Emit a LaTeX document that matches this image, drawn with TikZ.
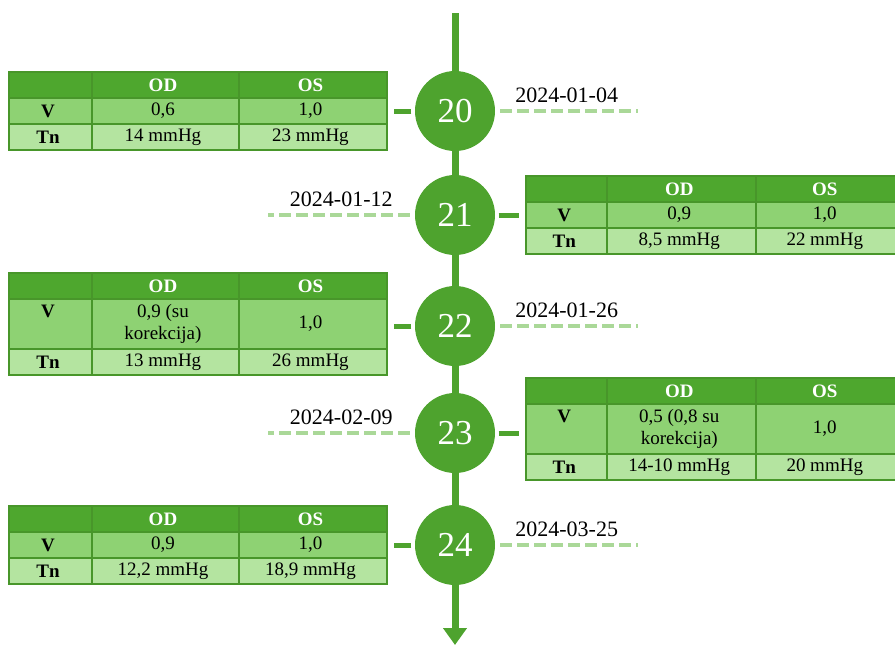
\documentclass[tikz,border=0pt]{standalone}
\usepackage{fontspec}
\setmainfont{Liberation Serif}
\newfontfamily\timesfont{Liberation Serif}
\usetikzlibrary{positioning, matrix, arrows.meta}

\definecolor{ringgreen}{RGB}{78,163,46}
\definecolor{headgreen}{RGB}{78,167,46}
\definecolor{vgreen}{RGB}{142,210,115}
\definecolor{tngreen}{RGB}{180,228,160}
\definecolor{rulegreen}{RGB}{72,150,42}
\definecolor{dashgreen}{RGB}{170,216,152}

\newcommand{\tabfont}{\timesfont\fontsize{19}{22}\selectfont}
\newcommand{\twoline}[2]{\begin{tabular}{@{}c@{}}#1\\#2\end{tabular}}

\tikzset{
  stop/.style={circle, fill=ringgreen, text=white, minimum size=80pt, inner sep=0pt,
    font=\timesfont\fontsize{35}{35}\selectfont},
  spine/.style={draw=ringgreen, line width=7pt},
  stub/.style={draw=ringgreen, line width=5pt, shorten <=3.5pt, shorten >=6.5pt},
  dateline/.style={draw=dashgreen, line width=4.5pt, dash pattern=on 12pt off 5pt, shorten <=5pt},
  datetxt/.style={text=black, font=\timesfont\fontsize{22}{24}\selectfont, inner sep=1pt, above=5pt},
  obs/.style n args={3}{matrix of nodes, nodes in empty cells, inner sep=0pt,
    column sep=-1.5pt, row sep=-1.5pt,
    nodes={draw=rulegreen, line width=1.5pt, anchor=center, align=center, inner sep=0pt,
      minimum height=26pt, font=\tabfont},
    column 1/.style={nodes={minimum width=#1, font=\tabfont\bfseries}},
    column 2/.style={nodes={minimum width=#2}},
    column 3/.style={nodes={minimum width=#3}},
    row 1/.style={nodes={fill=headgreen, text=white, font=\tabfont\bfseries}},
    row 2/.style={nodes={fill=vgreen}},
    row 3/.style={nodes={fill=tngreen}}},
  tall/.style={row 2/.append style={nodes={minimum height=50pt}}}
}

\begin{document}
\begin{tikzpicture}[x=1pt, y=-1pt]
   \useasboundingbox (0,0) rectangle (895,646);

   % visits
   \node[stop] (c20) at (455,111) {20};
   \node[stop, on grid, below=104pt of c20] (c21) {21};
   \node[stop, on grid, below=111pt of c21] (c22) {22};
   \node[stop, on grid, below=107pt of c22] (c23) {23};
   \node[stop, on grid, below=112pt of c23] (c24) {24};
   \coordinate (top) at (455,13);
   \coordinate (bot) at (455,645);

   \draw[spine] (top) -- (c20) -- (c21) -- (c22) -- (c23) -- (c24);
   \draw[spine, -{Triangle[width=23pt, length=17pt]}] (c24) -- (bot);

   % measurements
   \matrix[obs={83pt}{147pt}{148pt}, left=27pt of c20] (t20) {
     & OD & OS \\
     V & 0,6 & 1,0 \\
     Tn & 14 mmHg & 23 mmHg \\
   };
   \matrix[obs={81pt}{149pt}{142pt}, right=30pt of c21] (t21) {
     & OD & OS \\
     V & 0,9 & 1,0 \\
     Tn & 8,5 mmHg & 22 mmHg \\
   };
   \matrix[obs={83pt}{147pt}{148pt}, tall, left=27pt of c22, yshift=2pt] (t22) {
     & OD & OS \\
     \twoline{V}{\strut} & \twoline{0,9 (su}{korekcija)} & 1,0 \\
     Tn & 13 mmHg & 26 mmHg \\
   };
   \matrix[obs={81pt}{149pt}{142pt}, tall, right=30pt of c23, yshift=4pt] (t23) {
     & OD & OS \\
     \twoline{V}{\strut} & \twoline{0,5 (0,8 su}{korekcija)} & 1,0 \\
     Tn & 14-10 mmHg & 20 mmHg \\
   };
   \matrix[obs={83pt}{147pt}{148pt}, left=27pt of c24] (t24) {
     & OD & OS \\
     V & 0,9 & 1,0 \\
     Tn & 12,2 mmHg & 18,9 mmHg \\
   };

   \draw[stub] (c20) -- (t20);
   \draw[stub] (c21) -- (t21);
   \draw[stub] (c22) -- (c22 -| t22.east);
   \draw[stub] (c23) -- (c23 -| t23.west);
   \draw[stub] (c24) -- (t24);

   % dates
   \coordinate[right=143pt of c20.east] (e20);
   \coordinate[left=147pt of c21.west] (e21);
   \coordinate[right=143pt of c22.east] (e22);
   \coordinate[left=147pt of c23.west] (e23);
   \coordinate[right=143pt of c24.east] (e24);

   \draw[dateline] (c20) -- node[datetxt] (d20) {2024-01-04} (e20);
   \draw[dateline] (c21) -- node[datetxt] (d21) {2024-01-12} (e21);
   \draw[dateline] (c22) -- node[datetxt] (d22) {2024-01-26} (e22);
   \draw[dateline] (c23) -- node[datetxt] (d23) {2024-02-09} (e23);
   \draw[dateline] (c24) -- node[datetxt] (d24) {2024-03-25} (e24);
\end{tikzpicture}
\end{document}
